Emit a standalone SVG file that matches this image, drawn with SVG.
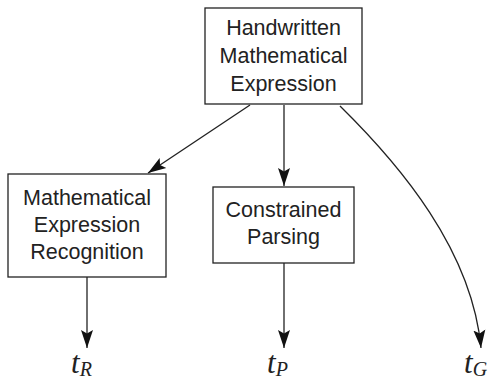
<svg xmlns="http://www.w3.org/2000/svg" width="494" height="383" viewBox="0 0 494 383">
<style>
.box{fill:#fff;stroke:#222;stroke-width:1.3}
.lbl{font-family:"Liberation Sans",Arial,sans-serif;font-size:21.5px;fill:#222;text-anchor:middle}
.edge{fill:none;stroke:#222;stroke-width:1.3;marker-end:url(#ah)}
.math{font-family:"Liberation Serif","Times New Roman",serif;font-style:italic;fill:#222}
</style>
<defs>
<marker id="ah" markerWidth="18" markerHeight="14" viewBox="0 0 18 14" refX="18" refY="7" orient="auto" markerUnits="userSpaceOnUse">
<path d="M0,1 L18,7 L0,13 L3.5,7 Z" fill="#111"/>
</marker>
</defs>
<g id="connectors">
<path class="edge" d="M250,105 L148,173"/>
<path class="edge" d="M284,105 L284,186"/>
<path class="edge" d="M340,106 C400,165 472,250 481,348"/>
<path class="edge" d="M87,277 L87,348"/>
<path class="edge" d="M284,263 L284,348"/>
</g>
<g id="hme">
<rect class="box" x="205" y="8" width="157" height="96"/>
<text class="lbl" x="283.5" y="35">Handwritten</text>
<text class="lbl" x="283.5" y="63">Mathematical</text>
<text class="lbl" x="283.5" y="91">Expression</text>
</g>
<g id="mer">
<rect class="box" x="8" y="174" width="158" height="103"/>
<text class="lbl" x="87" y="205">Mathematical</text>
<text class="lbl" x="87" y="232">Expression</text>
<text class="lbl" x="87" y="259">Recognition</text>
</g>
<g id="cp">
<rect class="box" x="213" y="187" width="141" height="76"/>
<text class="lbl" x="283.5" y="217">Constrained</text>
<text class="lbl" x="283.5" y="244">Parsing</text>
</g>
<g id="tR"><text class="math" x="71" y="373" font-size="31">t<tspan font-size="20" dy="3">R</tspan></text></g>
<g id="tP"><text class="math" x="267" y="373" font-size="31">t<tspan font-size="20" dy="3">P</tspan></text></g>
<g id="tG"><text class="math" x="464" y="373" font-size="31">t<tspan font-size="20" dy="3">G</tspan></text></g>
</svg>
